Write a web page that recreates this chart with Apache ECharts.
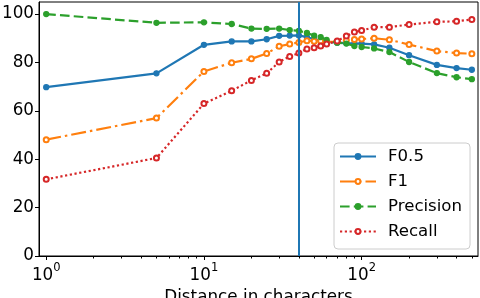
<!DOCTYPE html>
<html><head><meta charset="utf-8">
<script src="https://cdn.jsdelivr.net/npm/echarts@6/dist/echarts.min.js"></script>
<style>html,body{margin:0;padding:0;background:#fff}#c{width:480px;height:298px}</style>
</head><body><div id="c"></div>
<script>
const distances = [1,5,10,15,20,25,30,35,40,45,50,55,60,70,80,90,100,120,150,200,300,400,500];
const f05       = [69.8,75.5,87.3,88.7,88.7,89.6,91.0,91.1,91.2,90.5,89.6,89.0,88.5,88.2,88.0,87.8,87.8,87.5,86.1,83.0,79.0,77.7,77.0];
const f1        = [48.1,57.0,76.3,79.9,81.5,83.7,86.7,87.6,88.3,89.0,88.8,88.9,88.5,88.6,89.2,89.5,89.7,90.0,89.4,87.4,84.7,83.9,83.6];
const precision = [100,96.4,96.6,95.9,94.0,93.9,94.0,93.4,93.1,92.2,91.1,90.5,89.3,88.2,87.8,86.8,86.4,85.8,84.3,80.2,75.6,73.9,73.1];
const recall    = [31.7,40.5,63.0,68.3,72.6,75.5,80.2,82.5,83.9,85.6,86.1,86.8,87.6,88.9,90.9,92.6,93.2,94.6,94.6,95.7,96.8,97.0,97.8];
const seriesNames = ['F0.5','F1','Precision','Recall'];
const xMajorTicks = [1,10,100];
const xMinorTicks = [2,3,4,5,6,7,8,9,20,30,40,50,60,70,80,90,200,300,400,500];
const yTicks = [0,20,40,60,80,100];
const thresholdDistance = 40;
const xAxisTitle = 'Distance in characters';

const FONT = 'DejaVu Sans';
const FS = 16.8;
const colors = ['#1f77b4','#ff7f0e','#2ca02c','#d62728'];
const dashes = ['solid',[15,4,2.5,4],[9.6,4.2],[2.2,2.6]];
const symbols = ['circle','emptyCircle','circle','emptyCircle'];
const values = [f05,f1,precision,recall];

const pairs = v => distances.map((d,i)=>[d,v[i]]);
const series = values.map((v,k)=>({
  name: seriesNames[k], type:'line', data: pairs(v),
  symbol: symbols[k], symbolSize: 5, showSymbol:true,
  lineStyle:{color:colors[k], width:2.2, type:dashes[k], cap:'butt'},
  itemStyle:{color:colors[k], borderColor:colors[k], borderWidth:1.3},
  z: 2+k
}));
series[0].markLine = {
  silent:true, symbol:['none','none'], label:{show:false},
  lineStyle:{color:colors[0], width:2, type:'solid'},
  emphasis:{disabled:true},
  data:[{xAxis: thresholdDistance}], z: 20
};

const chart = echarts.init(document.getElementById('c'), null, {renderer:'canvas'});
chart.setOption({
  animation:false,
  grid:{left:39, right:2, top:2, bottom:42, containLabel:false, outerBoundsMode:'none',
        show:true, borderColor:'#000', borderWidth:1},
  xAxis:[{
    type:'log', logBase:10, min:0.9, max:547, position:'bottom',
    name:xAxisTitle, nameLocation:'middle', nameGap:26,
    nameTextStyle:{fontFamily:FONT, fontSize:FS, color:'#000'},
    axisLine:{lineStyle:{color:'#000', width:1}},
    axisTick:{length:4, lineStyle:{color:'#000'}, customValues:xMajorTicks},
    axisLabel:{customValues:xMajorTicks, margin:6,
      formatter: v => '{b|10}{s|' + Math.round(Math.log10(v)) + '}',
      rich:{
        b:{fontFamily:FONT, fontSize:FS, color:'#000', lineHeight:22, verticalAlign:'bottom'},
        s:{fontFamily:FONT, fontSize:11.5, color:'#000', lineHeight:11, verticalAlign:'top'}
      }},
    splitLine:{show:false}
  },{
    type:'log', logBase:10, min:0.9, max:547, position:'bottom',
    axisLine:{show:false},
    axisTick:{length:2.5, lineStyle:{color:'#000'}, customValues:xMinorTicks},
    axisLabel:{show:false}, splitLine:{show:false}
  }],
  yAxis:{
    type:'value', min:0, max:105,
    axisLine:{show:true, lineStyle:{color:'#000', width:1}},
    axisTick:{show:true, length:4, lineStyle:{color:'#000'}, customValues:yTicks},
    axisLabel:{customValues:yTicks, margin:5, fontFamily:FONT, fontSize:FS, color:'#000'},
    splitLine:{show:false}
  },
  legend:{
    orient:'vertical', left:334, top:143,
    data:seriesNames,
    itemWidth:36, itemHeight:6, itemGap:8,
    padding:[5,8,9,5],
    borderColor:'#cccccc', borderWidth:1, borderRadius:4,
    backgroundColor:'rgba(255,255,255,0.8)',
    textStyle:{fontFamily:FONT, fontSize:16.6, color:'#000', lineHeight:16.9, padding:[0,0,0,7]}
  },
  series
});
</script></body></html>
